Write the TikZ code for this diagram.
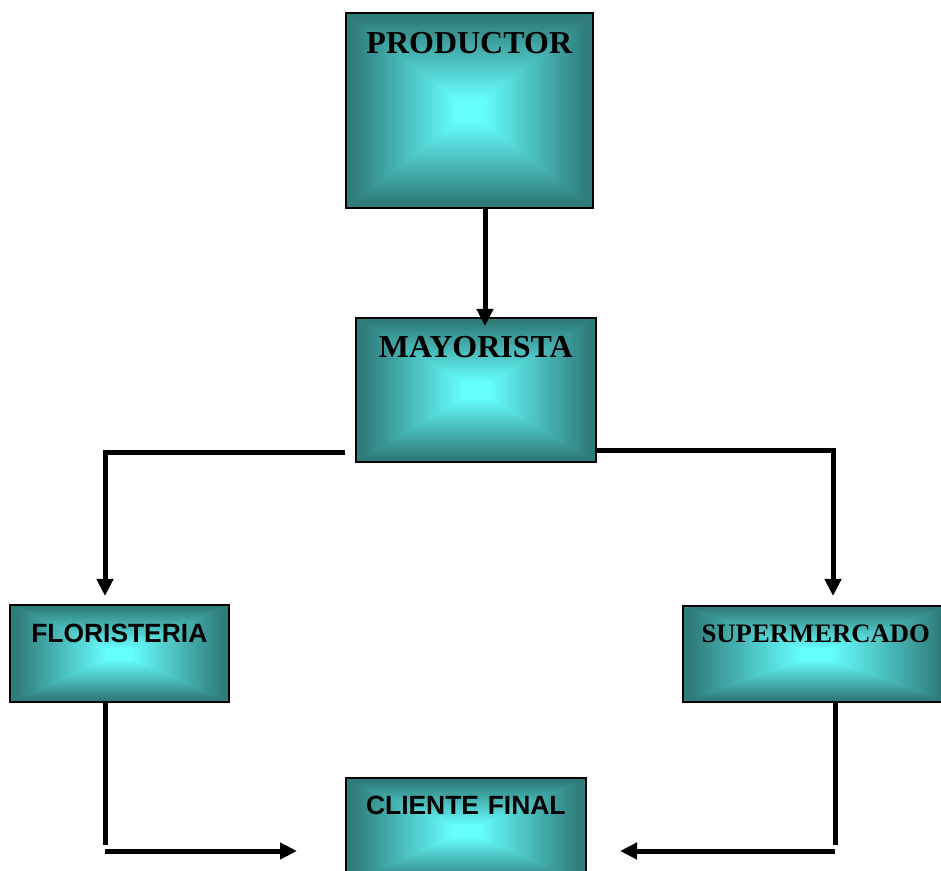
\documentclass[tikz,border=0pt]{standalone}
\usepackage{fontspec}
\setmainfont{Liberation Serif}
\newfontfamily\arialf{Liberation Sans}
\usetikzlibrary{arrows.meta}
\pgfdeclarefunctionalshading{pyr}{\pgfpoint{-50bp}{-50bp}}{\pgfpoint{50bp}{50bp}}{}{
  abs exch abs 2 copy lt {exch} if pop
  21 div 0.12 sub dup 1 gt {pop 1} if dup 0 lt {pop 0} if
  dup -0.2157 mul 0.4 add exch
  dup -0.5137 mul 1 add exch
  -0.5216 mul 1 add
}
\tikzset{
  gbox/.style={draw=black, line width=1.6pt, shading=pyr, inner sep=0pt, align=center, anchor=north west},
  timesfont/.style={font=\fontsize{32}{36}\selectfont\bfseries},
  timessmall/.style={font=\fontsize{26.7}{30}\selectfont\bfseries},
  arialfont/.style={font=\arialf\fontsize{26.4}{30}\selectfont\bfseries},
  arr/.style={line width=5pt, -{Triangle[width=16pt,length=17pt]}},
  plain/.style={line width=5pt}
}
\begin{document}
\begin{tikzpicture}[x=1pt,y=1pt]
\useasboundingbox (0,0) rectangle (941,870);
\fill[white] (0,0) rectangle (941,870);

\node[gbox, timesfont, text width=247pt, text height=41pt, text depth=154pt] (prod) at (345,858) {PRODUCTOR};
\node[gbox, timesfont, text width=240pt, text height=40pt, text depth=104pt] (may) at (355,553) {MAYORISTA};
\node[gbox, arialfont, text width=219pt, text height=38pt, text depth=59pt] (flo) at (9,266) {FLORISTERIA};
\node[gbox, timessmall, text width=266pt, text height=37pt, text depth=59pt] (sup) at (682,265) {SUPERMERCADO};
\node[gbox, arialfont, text width=240pt, text height=37pt, text depth=69pt] (cli) at (345,93) {CLIENTE FINAL};

% coordinates for free ends
\coordinate (pm) at (485,544);
\coordinate (ml) at (345,417);
\coordinate (mr) at (595,419);
\coordinate (fl) at (105,274);
\coordinate (sr) at (833,274);
\coordinate (fb) at (105,25);
\coordinate (sb) at (835,25);
\coordinate (fh) at (105,19);
\coordinate (ft) at (297,19);
\coordinate (sh) at (835,19);
\coordinate (st) at (620,19);

\draw[arr] (prod.south -| pm) -- (pm);
\draw[arr] (ml) -| (fl);
\draw[arr] (mr) -| (sr);
\draw[plain] (flo.south -| fb) -- (fb);
\draw[plain] (sup.south -| sb) -- (sb);
\draw[arr] (fh) -- (ft);
\draw[arr] (sh) -- (st);
\end{tikzpicture}
\end{document}
